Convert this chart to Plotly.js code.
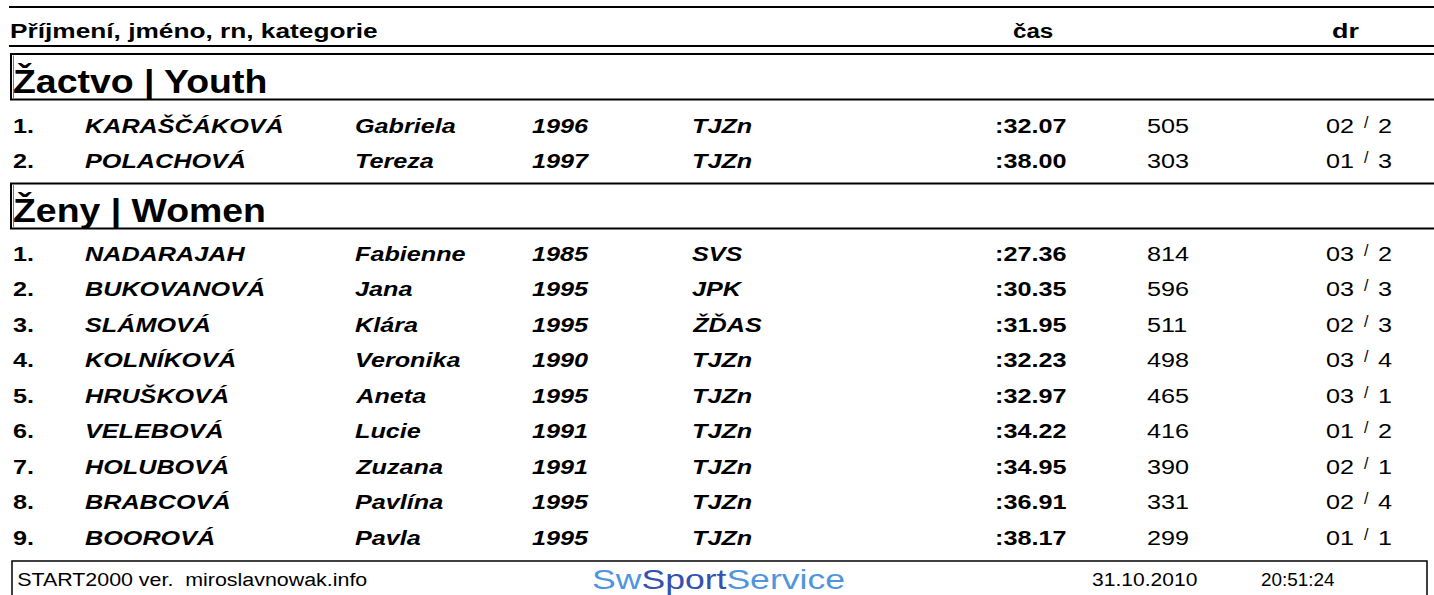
<!DOCTYPE html>
<html><head><meta charset="utf-8">
<script src="https://cdn.plot.ly/plotly-3.0.1.min.js"></script>
<style>html,body{margin:0;padding:0;background:#fff;overflow:hidden}#chart{width:1434px;height:595px}</style>
</head><body><div id="chart"></div>
<script>
// ---------- data ----------
const headerLabels = ["Příjmení, jméno, rn, kategorie", "čas", "dr"];
const categories = ["Žactvo | Youth", "Ženy | Women"];

const youthRank = ["1.", "2."];
const youthSurname = ["KARAŠČÁKOVÁ", "POLACHOVÁ"];
const youthFirst = ["Gabriela", "Tereza"];
const youthYear = ["1996", "1997"];
const youthClub = ["TJZn", "TJZn"];
const youthTime = [":32.07", ":38.00"];
const youthPoints = [505, 303];
const youthHeat = ["02", "01"];
const youthLane = [2, 3];

const womenRank = ["1.", "2.", "3.", "4.", "5.", "6.", "7.", "8.", "9."];
const womenSurname = ["NADARAJAH", "BUKOVANOVÁ", "SLÁMOVÁ", "KOLNÍKOVÁ", "HRUŠKOVÁ", "VELEBOVÁ", "HOLUBOVÁ", "BRABCOVÁ", "BOOROVÁ"];
const womenFirst = ["Fabienne", "Jana", "Klára", "Veronika", "Aneta", "Lucie", "Zuzana", "Pavlína", "Pavla"];
const womenYear = ["1985", "1995", "1995", "1990", "1995", "1991", "1991", "1995", "1995"];
const womenClub = ["SVS", "JPK", "ŽĎAS", "TJZn", "TJZn", "TJZn", "TJZn", "TJZn", "TJZn"];
const womenTime = [":27.36", ":30.35", ":31.95", ":32.23", ":32.97", ":34.22", ":34.95", ":36.91", ":38.17"];
const womenPoints = [814, 596, 511, 498, 465, 416, 390, 331, 299];
const womenHeat = ["03", "03", "02", "03", "03", "01", "02", "02", "01"];
const womenLane = [2, 3, 3, 4, 1, 2, 1, 4, 1];

const footerLeft = "START2000 ver.  miroslavnowak.info";
const footerLogo = ["Sw", "Sport", "Service"];
const footerDate = "31.10.2010";
const footerClock = "20:51:24";

// ---------- layout geometry ----------
const W = 1434, H = 595;
const FONT = "Liberation Sans, Arial, Helvetica, sans-serif";
const ROW_SIZE = 21, ROW_SX = 1.2;
const col = {rank: 13, surname: 85, first: 355, year: 532, club: 692, time: 995, points: 1147,
             heat: 1326, slash: 1364, lane: 1378};
const ROW_GAP = 35.5;
const sections = [
  {title: categories[0], boxTop: 54, boxBot: 99.5, firstRow: 125,
   rank: youthRank, sur: youthSurname, first: youthFirst, year: youthYear, club: youthClub,
   time: youthTime, pts: youthPoints, heat: youthHeat, lane: youthLane},
  {title: categories[1], boxTop: 183.5, boxBot: 228.5, firstRow: 253,
   rank: womenRank, sur: womenSurname, first: womenFirst, year: womenYear, club: womenClub,
   time: womenTime, pts: womenPoints, heat: womenHeat, lane: womenLane}
];

const anns = [];
const stretch = [];
function txt(x, y, text, size, opts, sx) {
  opts = opts || {};
  anns.push({
    xref: 'x', yref: 'y', x: x, y: y, text: text, showarrow: false,
    xanchor: opts.anchor || 'left', yanchor: 'middle', borderpad: 0, borderwidth: 0,
    font: {family: FONT, size: size, color: opts.color || '#000',
           weight: opts.bold ? 'bold' : 'normal', style: opts.italic ? 'italic' : 'normal'}
  });
  stretch.push(sx || ROW_SX);
}

// header
txt(10, 30, headerLabels[0], 21, {bold: true}, 1.25);
txt(1013, 30, headerLabels[1], 21, {bold: true}, 1.15);
txt(1332, 30, headerLabels[2], 21, {bold: true}, 1.28);

const shapes = [];
const line = (x0, y0, x1, y1, w) => shapes.push({type: 'line', xref: 'x', yref: 'y', x0, y0, x1, y1, line: {color: '#000', width: w}});
line(9, 7, W + 5, 7, 2);
line(9, 46, W + 5, 46, 2);

sections.forEach(s => {
  shapes.push({type: 'rect', xref: 'x', yref: 'y', x0: 11, x1: W + 10, y0: s.boxTop, y1: s.boxBot,
               line: {color: '#000', width: 2}});
  shapes.push({type: 'line', xref: 'x', yref: 'y', x0: 13.5, x1: 13.5, y0: s.boxTop + 1.5, y1: s.boxBot - 1.5,
               line: {color: '#777', width: 1}});
  txt(13, (s.boxTop + s.boxBot) / 2 + 4, s.title, 34, {bold: true}, 1.1);
  s.rank.forEach((r, i) => {
    const y = s.firstRow + i * ROW_GAP;
    txt(col.rank, y, r, ROW_SIZE, {bold: true});
    txt(col.surname, y, s.sur[i], ROW_SIZE, {bold: true, italic: true});
    txt(col.first, y, s.first[i], ROW_SIZE, {bold: true, italic: true});
    txt(col.year, y, s.year[i], ROW_SIZE, {bold: true, italic: true});
    txt(col.club, y, s.club[i], ROW_SIZE, {bold: true, italic: true});
    txt(col.time, y, s.time[i], ROW_SIZE, {bold: true});
    txt(col.points, y, String(s.pts[i]), ROW_SIZE, {});
    txt(col.heat, y, s.heat[i], ROW_SIZE, {});
    txt(col.slash, y - 3, '/', 16, {}, 1.0);
    txt(col.lane, y, String(s.lane[i]), ROW_SIZE, {});
  });
});

// footer
shapes.push({type: 'path', xref: 'x', yref: 'y', path: 'M 12,' + (H + 5) + ' L 12,561 L 1427,561 L 1427,' + (H + 5),
             line: {color: '#000', width: 1.5}});
txt(17, 580, footerLeft, 18, {}, 1.19);
txt(1092, 580, footerDate, 18, {}, 1.17);
txt(1261, 580, footerClock, 18, {}, 1.05);
txt(592, 579,
    '<span style="color:#4f96de">' + footerLogo[0] + '</span><span style="color:#3550b0">' + footerLogo[1] +
    '</span><span style="color:#4f96de">' + footerLogo[2] + '</span>', 28, {color: '#4f96de'}, 1.27);

const layout = {
  width: W, height: H, margin: {l: 0, r: 0, t: 0, b: 0, pad: 0},
  paper_bgcolor: '#fff', plot_bgcolor: '#fff', showlegend: false,
  xaxis: {range: [0, W], visible: false, fixedrange: true},
  yaxis: {range: [H, 0], visible: false, fixedrange: true},
  shapes: shapes, annotations: anns
};

Plotly.newPlot('chart', [{type: 'scatter', x: [], y: [], hoverinfo: 'skip'}], layout,
  {staticPlot: true, displayModeBar: false}).then(gd => {
  gd.querySelectorAll('g.annotation').forEach(g => {
    const i = +g.getAttribute('data-index');
    const t = g.querySelector('text.annotation-text');
    if (!t) return;
    const bb = t.getBBox();
    const a = anns[i].xanchor;
    const ox = a === 'left' ? bb.x : a === 'right' ? bb.x + bb.width : bb.x + bb.width / 2;
    t.setAttribute('transform', 'translate(' + ox + ',0) scale(' + stretch[i] + ',1) translate(' + (-ox) + ',0)');
  });
});
</script>
</body></html>
